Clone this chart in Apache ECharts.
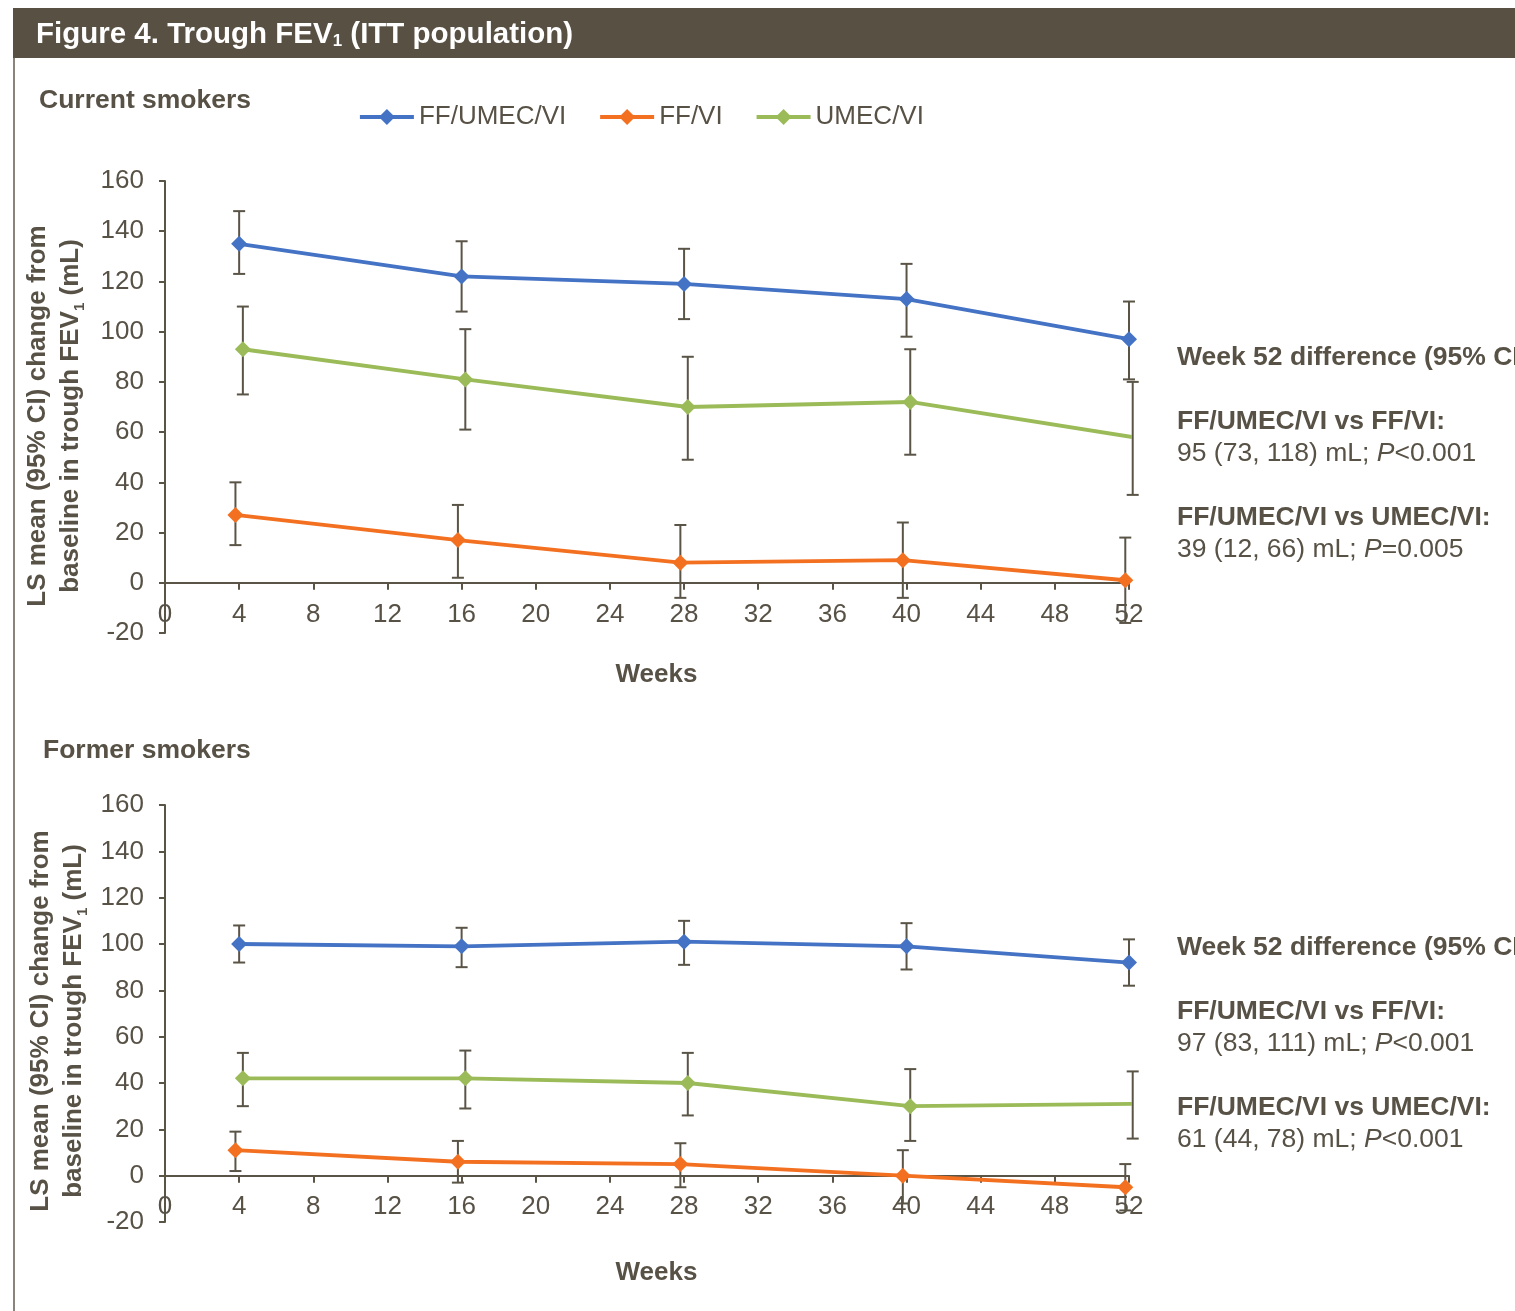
<!DOCTYPE html>
<html><head><meta charset="utf-8">
<script src="https://cdn.jsdelivr.net/npm/echarts@6/dist/echarts.min.js"></script>
<style>html,body{margin:0;padding:0;background:#fff}#c{width:1515px;height:1311px}</style>
</head><body><div id="c"></div>
<script>
// ---- data ----
const weeks = [4, 16, 28, 40, 52];
const seriesNames = ['FF/UMEC/VI', 'FF/VI', 'UMEC/VI'];
const dodge = [0, -0.2, 0.2];           // small horizontal offset of each series (weeks)
const panelTitles = ['Current smokers', 'Former smokers'];

// Current smokers
const curTripleMean = [135, 122, 119, 113, 97];
const curTripleLow  = [123, 108, 105, 98, 81];
const curTripleHigh = [148, 136, 133, 127, 112];
const curFfviMean = [27, 17, 8, 9, 1];
const curFfviLow  = [15, 2, -6, -6, -16];
const curFfviHigh = [40, 31, 23, 24, 18];
const curUmecMean = [93, 81, 70, 72, 58];
const curUmecLow  = [75, 61, 49, 51, 35];
const curUmecHigh = [110, 101, 90, 93, 80];

// Former smokers
const forTripleMean = [100, 99, 101, 99, 92];
const forTripleLow  = [92, 90, 91, 89, 82];
const forTripleHigh = [108, 107, 110, 109, 102];
const forFfviMean = [11, 6, 5, 0, -5];
const forFfviLow  = [2, -3, -5, -12, -15];
const forFfviHigh = [19, 15, 14, 11, 5];
const forUmecMean = [42, 42, 40, 30, 31];
const forUmecLow  = [30, 29, 26, 15, 16];
const forUmecHigh = [53, 54, 53, 46, 45];

// axis scales
const yMin = -20, yMax = 160, yStep = 20;
const xMin = 0, xMax = 52, xStep = 4;

// texts
const yAxisTitle = 'LS mean (95% CI) change from\nbaseline in trough FEV{s|1} (mL)';
const diffHeader = 'Week 52 difference (95% CI)';
const diffLabels = ['FF/UMEC/VI vs FF/VI:', 'FF/UMEC/VI vs UMEC/VI:'];
const curDiff = ['95 (73, 118) mL; {i|P}<0.001', '39 (12, 66) mL; {i|P}=0.005'];
const forDiff = ['97 (83, 111) mL; {i|P}<0.001', '61 (44, 78) mL; {i|P}<0.001'];

// ---- style ----
const colors = ['#4472C4', '#F37021', '#9BBB59'];
const axisCol = '#5a5447';
const textCol = '#575146';
const FONT = '"Liberation Sans", Arial, sans-serif';

const panels = [
  {means: [curTripleMean, curFfviMean, curUmecMean], lows: [curTripleLow, curFfviLow, curUmecLow], highs: [curTripleHigh, curFfviHigh, curUmecHigh]},
  {means: [forTripleMean, forFfviMean, forUmecMean], lows: [forTripleLow, forFfviLow, forUmecLow], highs: [forTripleHigh, forFfviHigh, forUmecHigh]}
];
const layout = [
  {top: 181, height: 452, labelMargin: -31, nameGap: 29},
  {top: 805, height: 417, labelMargin: -28, nameGap: 38}
];

const grids = [], xAxes = [], yAxes = [], series = [];
layout.forEach((g, p) => {
  grids.push({left: 165, width: 964, top: g.top, height: g.height, containLabel: false});
  xAxes.push({
    type: 'value', gridIndex: p, min: xMin, max: xMax, interval: xStep,
    axisLine: {show: true, onZero: true, lineStyle: {color: axisCol, width: 2}},
    axisTick: {show: true, length: 7, lineStyle: {color: axisCol, width: 2}},
    axisLabel: {fontSize: 26, color: textCol, margin: g.labelMargin, fontFamily: FONT},
    splitLine: {show: false},
    name: 'Weeks', nameLocation: 'middle', nameGap: g.nameGap,
    nameTextStyle: {fontSize: 26, fontWeight: 'bold', color: textCol, fontFamily: FONT, padding: [0, 0, 0, 19]}
  });
  yAxes.push({
    type: 'value', gridIndex: p, min: yMin, max: yMax, interval: yStep,
    axisLine: {show: true, lineStyle: {color: axisCol, width: 2}},
    axisTick: {show: true, length: 6, lineStyle: {color: axisCol, width: 2}},
    axisLabel: {fontSize: 26, color: textCol, margin: 21, fontFamily: FONT},
    splitLine: {show: false}
  });
  const P = panels[p];
  for (let s = 0; s < 3; s++) {
    series.push({
      type: 'custom', xAxisIndex: p, yAxisIndex: p, z: 2, silent: true,
      encode: {x: 0, y: [1, 2]},
      data: weeks.map((w, i) => [w + dodge[s], P.lows[s][i], P.highs[s][i]]),
      renderItem: function (params, api) {
        const x = api.value(0);
        const a = api.coord([x, api.value(2)]);
        const b = api.coord([x, api.value(1)]);
        const hw = 6;
        const st = {stroke: axisCol, lineWidth: 2};
        return {type: 'group', children: [
          {type: 'line', shape: {x1: a[0], y1: a[1], x2: b[0], y2: b[1]}, style: st},
          {type: 'line', shape: {x1: a[0] - hw, y1: a[1], x2: a[0] + hw, y2: a[1]}, style: st},
          {type: 'line', shape: {x1: b[0] - hw, y1: b[1], x2: b[0] + hw, y2: b[1]}, style: st}
        ]};
      }
    });
    series.push({
      type: 'line', name: seriesNames[s], xAxisIndex: p, yAxisIndex: p, z: 3,
      data: weeks.map((w, i) => [w + dodge[s], P.means[s][i]]),
      symbol: 'diamond', symbolSize: 16,
      lineStyle: {color: colors[s], width: 3.8},
      itemStyle: {color: colors[s]}
    });
  }
});

function txt(x, y, text, bold, size, extra, fill) {
  fill = fill || textCol;
  return Object.assign({
    type: 'text', x: x, y: y, z: 10,
    style: {text: text, fill: fill, font: (bold ? 'bold ' : '') + size + 'px ' + FONT,
      verticalAlign: 'middle', align: 'left',
      rich: {
        i: {fontStyle: 'italic', fontSize: size, fontFamily: FONT, fill: fill, fontWeight: bold ? 'bold' : 'normal'},
        s: {fontSize: Math.round(size * 0.58), fontFamily: FONT, fontWeight: 'bold', verticalAlign: 'bottom', fill: fill}
      }}
  }, extra || {});
}

function yTitle(cx, cy) {
  return {
    type: 'text', x: cx, y: cy, rotation: Math.PI / 2, z: 10,
    style: {text: yAxisTitle, fill: textCol, font: 'bold 26px ' + FONT, align: 'center', verticalAlign: 'middle',
      lineHeight: 33,
      rich: {s: {fontSize: 15, fontFamily: FONT, fontWeight: 'bold', fill: textCol, verticalAlign: 'bottom', lineHeight: 22}}}
  };
}

const RX = 1177, RF = 26.5;
const graphic = [
  {type: 'rect', shape: {x: 13, y: 8, width: 1502, height: 50}, style: {fill: '#585043'}, z: 1},
  txt(36, 35, 'Figure 4. Trough FEV{s|1} (ITT population)', true, 29.5, null, '#ffffff'),
  {type: 'line', shape: {x1: 14, y1: 58, x2: 14, y2: 1311}, style: {stroke: '#8a857c', lineWidth: 2}, z: 1},
  txt(39, 101, panelTitles[0], true, 26.5),
  txt(43, 751, panelTitles[1], true, 26.5),
  yTitle(54, 416),
  yTitle(57, 1021),
  txt(RX, 358, diffHeader, true, RF),
  txt(RX, 422, diffLabels[0], true, RF),
  txt(RX, 454, curDiff[0], false, RF),
  txt(RX, 518, diffLabels[1], true, RF),
  txt(RX, 550, curDiff[1], false, RF),
  txt(RX, 948, diffHeader, true, RF),
  txt(RX, 1012, diffLabels[0], true, RF),
  txt(RX, 1044, forDiff[0], false, RF),
  txt(RX, 1108, diffLabels[1], true, RF),
  txt(RX, 1140, forDiff[1], false, RF)
];

const chart = echarts.init(document.getElementById('c'), null, {renderer: 'canvas'});
chart.setOption({
  animation: false,
  backgroundColor: '#ffffff',
  textStyle: {fontFamily: FONT},
  legend: {
    data: seriesNames, left: 358, top: 104, padding: 0, itemWidth: 54, itemHeight: 20, itemGap: 32,
    lineStyle: {width: 3.8},
    textStyle: {fontSize: 26, color: textCol, fontFamily: FONT}
  },
  grid: grids, xAxis: xAxes, yAxis: yAxes, series: series, graphic: graphic
});
</script></body></html>
